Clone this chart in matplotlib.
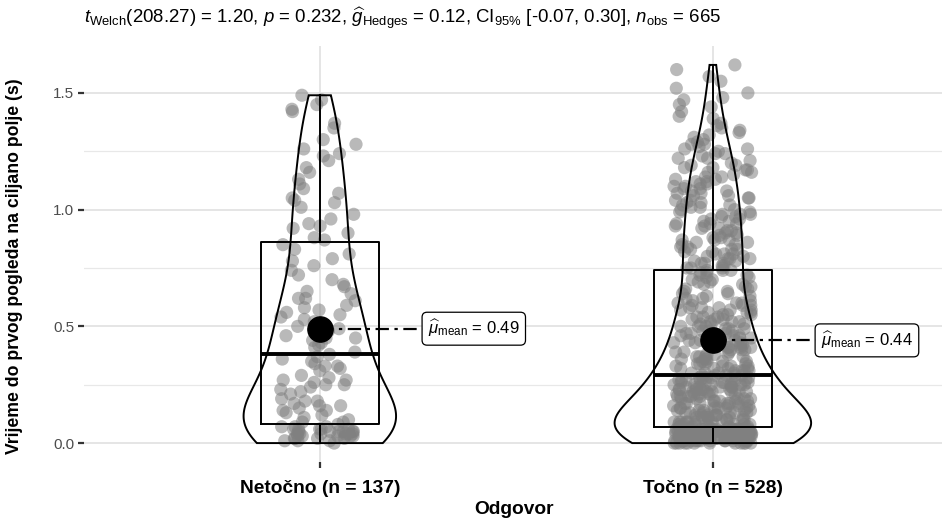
import numpy as np
import matplotlib.pyplot as plt

plt.rcParams['font.family'] = ['Liberation Sans', 'DejaVu Sans']
plt.rcParams['mathtext.fontset'] = 'custom'
plt.rcParams['mathtext.rm'] = 'Liberation Sans'
plt.rcParams['mathtext.it'] = 'Liberation Sans:italic'
plt.rcParams['mathtext.bf'] = 'Liberation Sans:bold'

# groups on the x axis
odgovori = ['Netočno', 'Točno']
n_obs = [137, 528]

# time to first fixation on the target field (s), wrong answers
netocno = [
    0.00, 0.01, 0.01, 0.02, 0.02, 0.02, 0.03, 0.03, 0.03, 0.03,
    0.04, 0.04, 0.04, 0.04, 0.05, 0.05, 0.05, 0.05, 0.05, 0.06,
    0.06, 0.06, 0.06, 0.07, 0.07, 0.07, 0.02, 0.03, 0.04, 0.01,
    0.05, 0.06, 0.03, 0.04, 0.08, 0.09, 0.09, 0.10, 0.11, 0.12,
    0.13, 0.14, 0.15, 0.16, 0.17, 0.18, 0.19, 0.14, 0.16, 0.18,
    0.21, 0.22, 0.23, 0.24, 0.25, 0.26, 0.27, 0.28, 0.29, 0.25,
    0.31, 0.32, 0.33, 0.34, 0.35, 0.36, 0.37, 0.38, 0.39, 0.41,
    0.42, 0.43, 0.44, 0.45, 0.46, 0.47, 0.48, 0.49, 0.52, 0.53,
    0.54, 0.55, 0.56, 0.57, 0.58, 0.59, 0.61, 0.62, 0.64, 0.65,
    0.67, 0.68, 0.70, 0.72, 0.74, 0.76, 0.78, 0.81, 0.83, 0.85,
    0.87, 0.88, 0.90, 0.92, 0.94, 0.96, 0.98, 1.01, 1.03, 1.05,
    1.07, 1.09, 1.11, 1.13, 1.16, 1.18, 1.21, 1.23, 1.24, 1.26,
    1.28, 1.30, 1.35, 1.37, 1.42, 1.43, 1.45, 1.47, 1.49, 1.04,
    0.93, 0.79, 0.62, 0.50, 0.45, 0.33, 0.27,
]

# correct answers as a frequency table: counts per 10 ms, from 0.00 s up
tocno_broj = [
    12, 18, 20, 21, 21, 20, 20, 5, 7, 7,
    6, 6, 6, 6, 5, 6, 5, 6, 5, 5,
    5, 6, 6, 6, 6, 6, 6, 6, 5, 5,
    4, 4, 4, 4, 4, 4, 3, 4, 3, 3,
    3, 4, 3, 4, 3, 3, 3, 4, 3, 3,
    3, 3, 3, 3, 3, 3, 3, 3, 3, 3,
    3, 2, 2, 2, 2, 2, 2, 2, 2, 2,
    2, 2, 2, 2, 3, 3, 2, 3, 2, 3,
    2, 3, 2, 3, 2, 2, 2, 3, 2, 2,
    2, 2, 2, 2, 3, 2, 2, 2, 3, 2,
    2, 2, 2, 2, 2, 2, 2, 2, 2, 2,
    2, 2, 2, 2, 2, 1, 2, 2, 2, 2,
    1, 1, 2, 1, 2, 1, 2, 1, 2, 1,
    1, 1, 1, 1, 1, 1, 1, 1, 0, 1,
    1, 0, 1, 0, 1, 1, 0, 1, 1, 0,
    1, 0, 1, 0, 0, 1, 0, 1, 0, 0,
    1, 0, 1,
]
tocno = np.repeat(np.arange(len(tocno_broj)) / 100, tocno_broj)

# box summary per group
q1 = [0.08, 0.07]
medijan = [0.38, 0.29]
q3 = [0.86, 0.74]
brk_dolje = [0.00, 0.00]
brk_gore = [1.49, 1.62]
sredina = [0.49, 0.44]

podnaslov = (r'$t_{\mathrm{Welch}}$(208.27) = 1.20, $p$ = 0.232, '
             r'$\widehat{g}_{\mathrm{Hedges}}$ = 0.12, CI$_{95\%}$ [-0.07, 0.30], '
             r'$n_{\mathrm{obs}}$ = 665')


def kde_nrd0(v, grid):
    v = np.asarray(v, dtype=float)
    n = len(v)
    iqr = np.subtract(*np.percentile(v, [75, 25]))
    bw = 0.9 * min(v.std(ddof=1), iqr / 1.34) * n ** -0.2
    z = (grid[:, None] - v[None, :]) / bw
    return np.exp(-0.5 * z ** 2).sum(axis=1) / (n * bw * np.sqrt(2 * np.pi))


fig = plt.figure(figsize=(9.42, 5.2), dpi=100)
ax = fig.add_axes([84 / 942, 58 / 520, 1 - 84 / 942, 416 / 520])

skupine = [np.asarray(netocno), tocno]
poz = np.arange(1, len(odgovori) + 1)

# horizontal jitter only, like position_jitter(height = 0)
rng = np.random.default_rng(123)
for i, v in zip(poz, skupine):
    pomak = rng.uniform(-0.1, 0.1, len(v))
    ax.scatter(i + pomak, v, s=90, color='#808080', alpha=0.55,
               edgecolors='none', zorder=2)

# violins, scaled by area like ggplot
mreze, gustoce = [], []
for v in skupine:
    g = np.linspace(min(v), max(v), 512)
    mreze.append(g)
    gustoce.append(kde_nrd0(v, g))
maks = max(d.max() for d in gustoce)
for i, g, d in zip(poz, mreze, gustoce):
    hw = d / maks * 0.25
    ax.fill(np.concatenate([i - hw, (i + hw)[::-1]]),
            np.concatenate([g, g[::-1]]),
            fill=False, edgecolor='black', linewidth=1.4, zorder=3)

# boxes from the summary values
stats = [dict(med=m, q1=a, q3=b, whislo=lo, whishi=hi, fliers=[])
         for m, a, b, lo, hi in zip(medijan, q1, q3, brk_dolje, brk_gore)]
ax.bxp(stats, positions=poz, widths=0.3, showcaps=False, showfliers=False,
       boxprops=dict(color='black', linewidth=1.4),
       whiskerprops=dict(color='black', linewidth=1.4),
       medianprops=dict(color='black', linewidth=2.8),
       manage_ticks=False, zorder=3)

# means with labels
for i, m in zip(poz, sredina):
    ax.plot([i, i + 0.27], [m, m], color='black', linewidth=1.6,
            dashes=(6, 2.5, 1.5, 2.5), zorder=4)
    ax.scatter([i], [m], s=330, color='black', zorder=5)
    ax.text(i + 0.275, m, r'$\widehat{\mu}_{\mathrm{mean}}$' + f' = {m:.2f}',
            ha='left', va='center', fontsize=12, zorder=6,
            bbox=dict(boxstyle='round,pad=0.35,rounding_size=0.3',
                      fc='white', ec='black', lw=0.9))

ax.set_xlim(0.4, 2.583)
ax.set_ylim(-0.081, 1.701)
ax.set_yticks([0.0, 0.5, 1.0, 1.5])
ax.set_yticklabels(['0.0', '0.5', '1.0', '1.5'])
ax.set_yticks([0.25, 0.75, 1.25], minor=True)
ax.set_xticks(poz)
ax.set_xticklabels([f'{o} (n = {n})' for o, n in zip(odgovori, n_obs)],
                   fontweight='bold', fontsize=13.8)
for s in ax.spines.values():
    s.set_visible(False)
ax.grid(True, which='major', color='#e0e0e0', linewidth=1.2, zorder=0)
ax.grid(True, which='minor', axis='y', color='#e8e8e8', linewidth=0.9, zorder=0)
ax.set_axisbelow(True)
ax.tick_params(axis='y', which='major', length=4, width=1.6, color='#333333',
               labelsize=11, labelcolor='#4d4d4d', pad=3)
ax.tick_params(axis='y', which='minor', length=0)
ax.tick_params(axis='x', length=4, width=1.6, color='#333333', pad=9)

fig.text(514 / 942, 1 - 509 / 520, 'Odgovor', ha='center', va='center',
         fontweight='bold', fontsize=13.8)
fig.text(15 / 942, 1 - 266 / 520, 'Vrijeme do prvog pogleda na ciljano polje (s)',
         rotation=90, ha='center', va='center', fontweight='bold', fontsize=12.7)
fig.text(84 / 942, 1 - 19 / 520, podnaslov, ha='left', va='center', fontsize=13.4)

fig.savefig('out.png', dpi=100, facecolor='white')
